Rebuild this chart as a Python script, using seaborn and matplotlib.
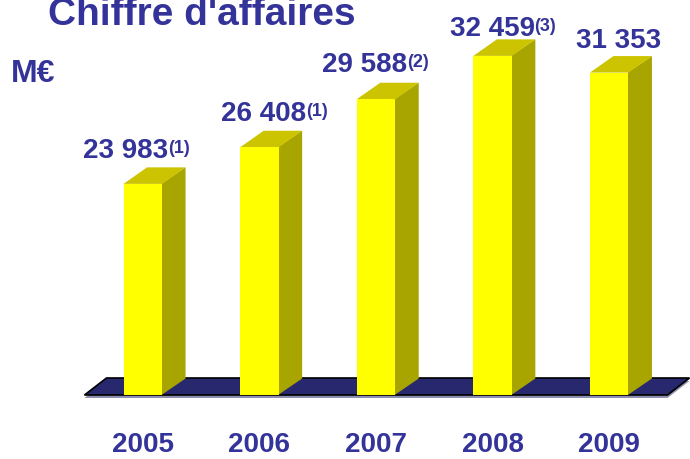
import matplotlib
matplotlib.use("Agg")
import matplotlib.pyplot as plt
import seaborn as sns
from matplotlib.patches import Polygon

# Chart data
years = ["2005", "2006", "2007", "2008", "2009"]
revenue = [23983, 26408, 29588, 32459, 31353]
value_labels = ["23 983", "26 408", "29 588", "32 459", "31 353"]
footnotes = ["(1)", "(1)", "(2)", "(3)", ""]

# label nudges in pixels (x from bar front centre, baseline above front top)
label_dx = [-17, 4.5, -11.5, -0.5, 9.5]
label_dy = [27, 27, 28, 21, 26]

text_blue = "#333399"
front_col = "#FFFF00"
top_col = "#CCC400"
side_col = "#A8A400"
floor_col = "#28286F"

sns.set_style("white")
plt.rcParams["font.family"] = ["Liberation Sans", "DejaVu Sans"]
plt.rcParams["font.weight"] = "bold"

W, H, DPI = 6.9, 4.6, 100
fig = plt.figure(figsize=(W, H), dpi=DPI)
ax_box = [84.5 / 690, 64 / 460, 583 / 690, 362.4 / 460]
ax = fig.add_axes(ax_box)

sns.barplot(x=years, y=revenue, color=front_col, saturation=1, width=0.33,
            edgecolor="none", ax=ax)
ax.set_xlim(-0.5, 4.5)
ax.set_ylim(10000, 34000)

# pixel -> data conversion for the fake depth
xpp = 5 / (ax_box[2] * W * DPI)
ypp = 24000 / (ax_box[3] * H * DPI)
dx, dy = 23.5 * xpp, 16.5 * ypp
y0 = ax.get_ylim()[0]

# floor slab
fdx, fdy = 22 * xpp, 17 * ypp
floor = [(-0.5, y0), (4.5, y0), (4.5 + fdx, y0 + fdy), (-0.5 + fdx, y0 + fdy)]
shadow = [(x, y - 3 * ypp) for x, y in floor]
ax.add_patch(Polygon(shadow, closed=True, fc="#8E8EAE", ec="none", zorder=0.4, clip_on=False))
ax.add_patch(Polygon(floor, closed=True, fc=floor_col, ec="black", lw=1.2, zorder=0.5, clip_on=False))

bars = list(ax.patches)[:len(years)]
for i, p in enumerate(bars):
    p.set_zorder(3)
    x0, w, h = p.get_x(), p.get_width(), p.get_height()
    xs = x0 + w - 0.6 * xpp  # slight overlap, no seam
    side = [(xs, y0), (xs, h), (x0 + w + dx, h + dy), (x0 + w + dx, y0 + dy)]
    top = [(x0, h), (x0 + w, h), (x0 + w + dx, h + dy), (x0 + dx, h + dy)]
    ax.add_patch(Polygon(side, closed=True, fc=side_col, ec="none", zorder=2.9, clip_on=False))
    ax.add_patch(Polygon(top, closed=True, fc=top_col, ec="none", zorder=2.9, clip_on=False))

    main = ax.annotate(value_labels[i], xy=(x0 + w / 2, h),
                       xytext=(label_dx[i], label_dy[i]), textcoords="offset pixels",
                       ha="center", va="baseline", fontsize=20, fontweight="bold",
                       color=text_blue, annotation_clip=False)
    if footnotes[i]:
        ax.annotate(footnotes[i], xy=(1, 1), xycoords=main,
                    xytext=(0, -2), textcoords="offset pixels",
                    ha="left", va="top", fontsize=13, fontweight="bold",
                    color=text_blue)

ax.set_xticks(range(len(years)), years)
ax.tick_params(axis="x", length=0, pad=26, labelsize=20, labelcolor=text_blue)
ax.set_yticks([])
ax.set_xlabel("")
ax.set_ylabel("")
sns.despine(ax=ax, left=True, bottom=True)

fig.text(48 / 690, 1 - 25 / 460, "Chiffre d'affaires", ha="left", va="baseline",
         fontsize=28, fontweight="bold", color=text_blue)
fig.text(11 / 690, 1 - 82 / 460, "M€", ha="left", va="baseline",
         fontsize=23, fontweight="bold", color=text_blue)

fig.savefig("out.png", dpi=DPI)
